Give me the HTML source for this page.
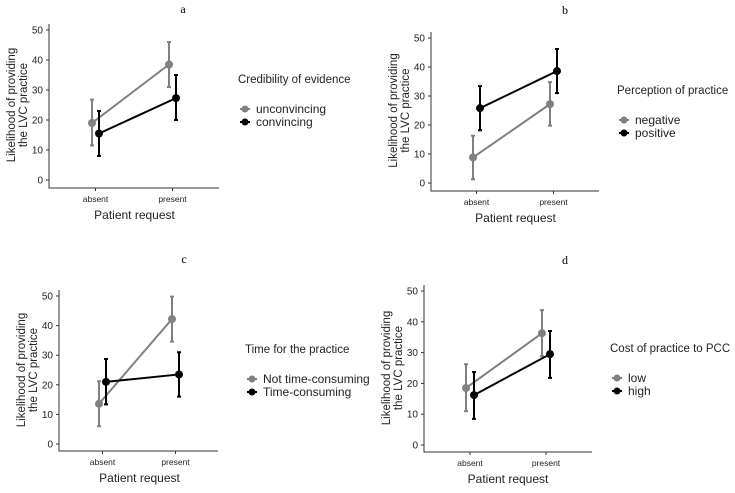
<!DOCTYPE html>
<html><head><meta charset="utf-8"><style>
body{margin:0;background:#fff;}
svg text{font-family:"Liberation Sans",Arial,sans-serif;}
</style></head><body>
<svg id="fig" width="735" height="488" viewBox="0 0 735 488"></svg>
<script>
const categories=["absent","present"];
const yTicks=[0,10,20,30,40,50];
const aGray=[19,38.5], aGrayLo=[11.5,31], aGrayHi=[26.8,46];
const aBlack=[15.5,27.3], aBlackLo=[8,20], aBlackHi=[23,35];
const bGray=[8.8,27.2], bGrayLo=[1.3,19.8], bGrayHi=[16.3,34.8];
const bBlack=[25.8,38.6], bBlackLo=[18.2,31], bBlackHi=[33.4,46.2];
const cGray=[13.6,42.2], cGrayLo=[6,34.6], cGrayHi=[21.2,49.8];
const cBlack=[21,23.5], cBlackLo=[13.4,16], cBlackHi=[28.7,31];
const dGray=[18.5,36.3], dGrayLo=[11,28.8], dGrayHi=[26.2,43.8];
const dBlack=[16.2,29.5], dBlackLo=[8.5,21.8], dBlackHi=[23.7,37];
const legendTitles=["Credibility of evidence","Perception of practice","Time for the practice","Cost of practice to PCC"];
const grayLabels=["unconvincing","negative","Not time-consuming","low"];
const blackLabels=["convincing","positive","Time-consuming","high"];
const panelLetters=["a","b","c","d"];

const NS="http://www.w3.org/2000/svg";
const svg=document.getElementById('fig');
function mk(tag,attrs,parent,txt){const e=document.createElementNS(NS,tag);for(const k in attrs)e.setAttribute(k,attrs[k]);if(txt!==undefined)e.textContent=txt;(parent||svg).appendChild(e);return e;}

const panels=[
 {L:49,y0:180,y50:30,B:188,R:219,xg:[92,169],off:7,lx:238,ly:83,tx:183,ty:13,g:[aGray,aGrayLo,aGrayHi],b:[aBlack,aBlackLo,aBlackHi]},
 {L:431,y0:183,y50:38,B:191,R:599,xg:[473,550],off:7,lx:617,ly:94,tx:565,ty:14,g:[bGray,bGrayLo,bGrayHi],b:[bBlack,bBlackLo,bBlackHi]},
 {L:59,y0:444,y50:296,B:451,R:218,xg:[99,172],off:7,lx:245,ly:353,tx:184,ty:263,g:[cGray,cGrayLo,cGrayHi],b:[cBlack,cBlackLo,cBlackHi]},
 {L:424,y0:445,y50:291,B:452,R:592,xg:[466,542],off:8,lx:610,ly:352,tx:565,ty:264,g:[dGray,dGrayLo,dGrayHi],b:[dBlack,dBlackLo,dBlackHi]}
];
panels.forEach((p,i)=>{
 const G=mk('g',{});
 
 
 const y=v=>p.y0+(p.y50-p.y0)*v/50;
 const xs=(j,k)=>p.xg[j]+k*p.off;
 const t=mk('text',{x:p.tx,y:p.ty,'font-size':12,'text-anchor':'middle',style:'font-family:"Liberation Serif",serif'},G,panelLetters[i]);
 
 const ax=mk('path',{d:`M${p.L},${p.y50-6}V${p.B}H${p.R}`,stroke:'#333',fill:'none','stroke-width':1},G);
 
 yTicks.forEach(v=>{
  mk('line',{x1:p.L-3,x2:p.L,y1:y(v),y2:y(v),stroke:'#333'},G);
  const tl=mk('text',{x:p.L-6,y:y(v)+3.5,'font-size':10,'text-anchor':'end',fill:'#222'},G,v);
  
 });
 categories.forEach((c,j)=>{
  const cx=p.xg[j]+p.off/2;
  mk('line',{x1:cx,x2:cx,y1:p.B,y2:p.B+3,stroke:'#333'},G);
  const tl=mk('text',{x:cx,y:p.B+14,'font-size':8.5,'text-anchor':'middle',fill:'#222'},G,c);
  
 });
 const xt=mk('text',{x:(p.xg[0]+p.xg[1])/2+4,y:p.B+31,'font-size':12,'text-anchor':'middle',fill:'#222'},G,'Patient request');
 
 const ym=(p.y0+p.y50)/2;
 const yt=mk('text',{transform:`translate(${p.L-28},${ym}) rotate(-90)`,'font-size':11.5,'text-anchor':'middle',fill:'#222'},G);
 
 mk('tspan',{x:0,dy:-6},yt,'Likelihood of providing');
 mk('tspan',{x:0,dy:12},yt,'the LVC practice');
 [[p.g,'#808080',0,'gray'],[p.b,'#000',1,'black']].forEach(([s,col,k,nm])=>{
  const [m,lo,hi]=s;
  const ln=mk('line',{x1:xs(0,k),y1:y(m[0]),x2:xs(1,k),y2:y(m[1]),stroke:col,'stroke-width':2},G);
  
  m.forEach((v,j)=>{
   const x=xs(j,k);
   const eb=mk('path',{d:`M${x-2},${y(lo[j])}H${x+2}M${x},${y(lo[j])}V${y(hi[j])}M${x-2},${y(hi[j])}H${x+2}`,stroke:col,'stroke-width':2,fill:'none'},G);
   
   const pt=mk('circle',{cx:x,cy:y(v),r:4,fill:col},G);
   
  });
 });
 const lt=mk('text',{x:p.lx,y:p.ly,'font-size':11.5,fill:'#222'},G,legendTitles[i]);
 
 [[grayLabels[i],'#808080'],[blackLabels[i],'#000']].forEach(([lab,col],k)=>{
  const yy=p.ly+30+k*13;
  const le=mk('g',{},G);
  
  mk('line',{x1:p.lx+2,x2:p.lx+12,y1:yy-4,y2:yy-4,stroke:col,'stroke-width':2},le);
  mk('circle',{cx:p.lx+7,cy:yy-4,r:3.5,fill:col},le);
  mk('text',{x:p.lx+18,y:yy,'font-size':12,fill:'#222'},le,lab);
 });
});
</script>
</body></html>
